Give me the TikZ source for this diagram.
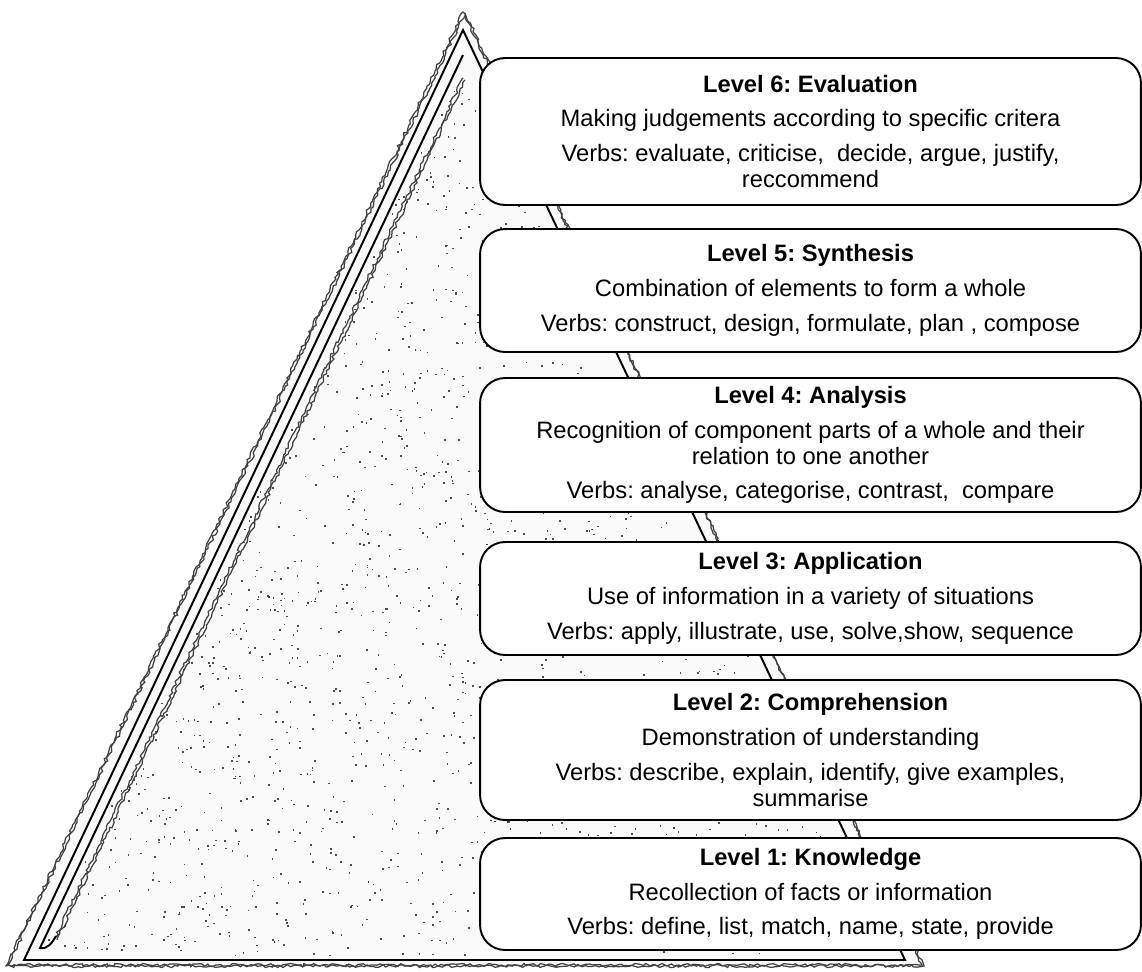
\documentclass[tikz,border=0pt]{standalone}
\usepackage{fontspec}
\setmainfont{Liberation Sans}
\frenchspacing
\usetikzlibrary{decorations.pathmorphing}
\tikzset{
	levelbox/.style = {
		draw=black,
		fill=white,
		line width=1.1pt,
		rounded corners=0.5cm,
		minimum width=13.22cm,
		inner sep=0pt,
		align=center,
		font=\fontsize{13.5}{14.8}\selectfont
	},
	rough/.style = {
		draw=black!75,
		line width=0.7pt,
		decorate,
		decoration={random steps, segment length=1.8pt, amplitude=0.9pt}
	},
	edge_line/.style = {
		draw=black,
		line width=1.1pt
	},
}

\begin{document}
\begin{tikzpicture}[x=0.02cm, y=-0.02cm]
\useasboundingbox (0,0) rectangle (1142,971);
% pyramid
\coordinate (top) at (463,12);
\coordinate (left) at (6,966);
\coordinate (right) at (924,966);
\fill[black!2] (top) -- (left) -- (right) -- cycle;
\pgfmathsetseed{2718}
\foreach \i in {1,...,1700} {
	\pgfmathsetmacro\ra{sqrt(rnd)}
	\pgfmathsetmacro\rb{rnd}
	\pgfmathsetmacro\sx{(1-\ra)*463+\ra*(1-\rb)*40+\ra*\rb*890}
	\pgfmathsetmacro\sy{(1-\ra)*60+\ra*955}
	\fill[black!70] (\sx,\sy) rectangle ++(1.6,1.6);
}
\draw[rough] (top) -- (left) -- (right) -- cycle;
\draw[rough] ([shift={(2,1)}]top) -- ([shift={(2,-1)}]left) -- ([shift={(-2,-1)}]right) -- cycle;
\draw[rough] (463,78) -- (54,940);
\draw[rough] (465,80) -- (57,940);
\draw[edge_line] (463,30) -- (24,960) -- (905,960) -- cycle;
\draw[edge_line] (463,55) -- (40,948) to[out=-10,in=-120] (56,936);

% levels
\node[levelbox, minimum height=2.94cm] (evaluation) at (810.5,131.5) {
	\textbf{Level 6: Evaluation}\\[5pt]
	Making judgements according to specific critera\\[5pt]
	Verbs: evaluate, criticise,~ decide, argue, justify,\\
	reccommend};
\node[levelbox, minimum height=2.46cm] (synthesis) at (810.5,290.5) {
	\textbf{Level 5: Synthesis}\\[5pt]
	Combination of elements to form a whole\\[5pt]
	Verbs: construct, design, formulate, plan , compose};
\node[levelbox, minimum height=2.68cm] (analysis) at (810.5,445) {
	\textbf{Level 4: Analysis}\\[5pt]
	Recognition of component parts of a whole and their\\
	relation to one another\\[5pt]
	Verbs: analyse, categorise, contrast,~ compare};
\node[levelbox, minimum height=2.26cm] (application) at (810.5,598.5) {
	\textbf{Level 3: Application}\\[5pt]
	Use of information in a variety of situations\\[5pt]
	Verbs: apply, illustrate, use, solve,show, sequence};
\node[levelbox, minimum height=2.8cm] (comprehension) at (810.5,750) {
	\textbf{Level 2: Comprehension}\\[5pt]
	Demonstration of understanding\\[5pt]
	Verbs: describe, explain, identify, give examples,\\
	summarise};
\node[levelbox, minimum height=2.24cm] (knowledge) at (810.5,894) {
	\textbf{Level 1: Knowledge}\\[5pt]
	Recollection of facts or information\\[5pt]
	Verbs: define, list, match, name, state, provide};
\end{tikzpicture}
\end{document}
